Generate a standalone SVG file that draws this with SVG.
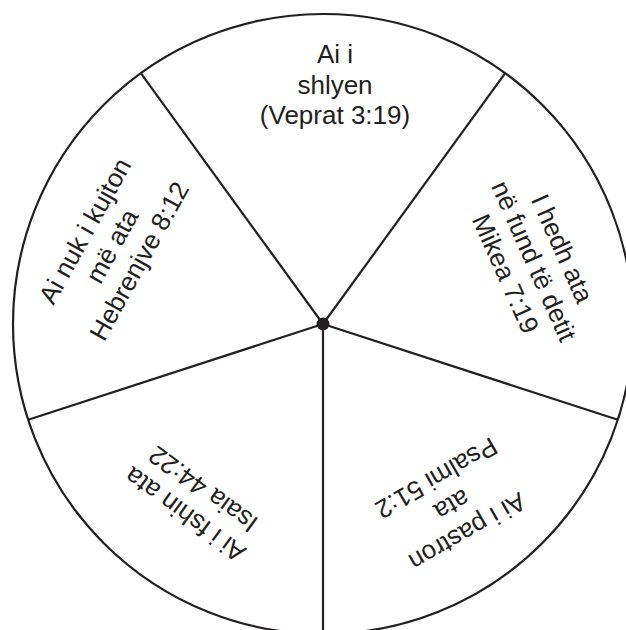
<svg xmlns="http://www.w3.org/2000/svg" width="626" height="630" viewBox="0 0 626 630">
  <style>
    .rim { fill: #ffffff; stroke: #231f20; stroke-width: 2.2; }
    .spoke { stroke: #231f20; stroke-width: 2.2; fill: none; }
    .hub { fill: #231f20; }
    .lbl { font-family: "Liberation Sans", Arial, sans-serif; font-size: 26px; fill: #231f20; text-anchor: middle; }
  </style>
  <rect x="0" y="0" width="626" height="630" fill="#ffffff"/>
  <circle id="wheel" class="rim" cx="323" cy="324" r="310"/>
  <g id="connectors">
    <line class="spoke" x1="323" y1="324" x2="140.8" y2="73.2"/>
    <line class="spoke" x1="323" y1="324" x2="505.2" y2="73.2"/>
    <line class="spoke" x1="323" y1="324" x2="617.8" y2="419.8"/>
    <line class="spoke" x1="323" y1="324" x2="323" y2="640"/>
    <line class="spoke" x1="323" y1="324" x2="28.2" y2="419.8"/>
  </g>
  <circle id="hub" class="hub" cx="323" cy="324" r="6.5"/>
  <g id="node-top">
    <text class="lbl" x="335" y="63">Ai i</text>
    <text class="lbl" x="335" y="94">shlyen</text>
    <text class="lbl" x="335" y="124">(Veprat 3:19)</text>
  </g>
  <g id="node-right" transform="translate(534,261) rotate(66)">
    <text class="lbl" x="0" y="-22">I hedh ata</text>
    <text class="lbl" x="0" y="9">në fund të detit</text>
    <text class="lbl" x="0" y="40">Mikea 7:19</text>
  </g>
  <g id="node-bottom-right" transform="translate(452,505) rotate(150)">
    <text class="lbl" x="0" y="-22">Ai i pastron</text>
    <text class="lbl" x="0" y="9">ata</text>
    <text class="lbl" x="0" y="40">Psalmi 51:2</text>
  </g>
  <g id="node-bottom-left" transform="translate(194,502) rotate(-144)">
    <text class="lbl" x="0" y="-6.5">Ai i fshin ata</text>
    <text class="lbl" x="0" y="24.5">Isaia 44:22</text>
  </g>
  <g id="node-left" transform="translate(112,246) rotate(-61)">
    <text class="lbl" x="0" y="-22">Ai nuk i kujton</text>
    <text class="lbl" x="0" y="9">më ata</text>
    <text class="lbl" x="0" y="40">Hebrenjve 8:12</text>
  </g>
</svg>
